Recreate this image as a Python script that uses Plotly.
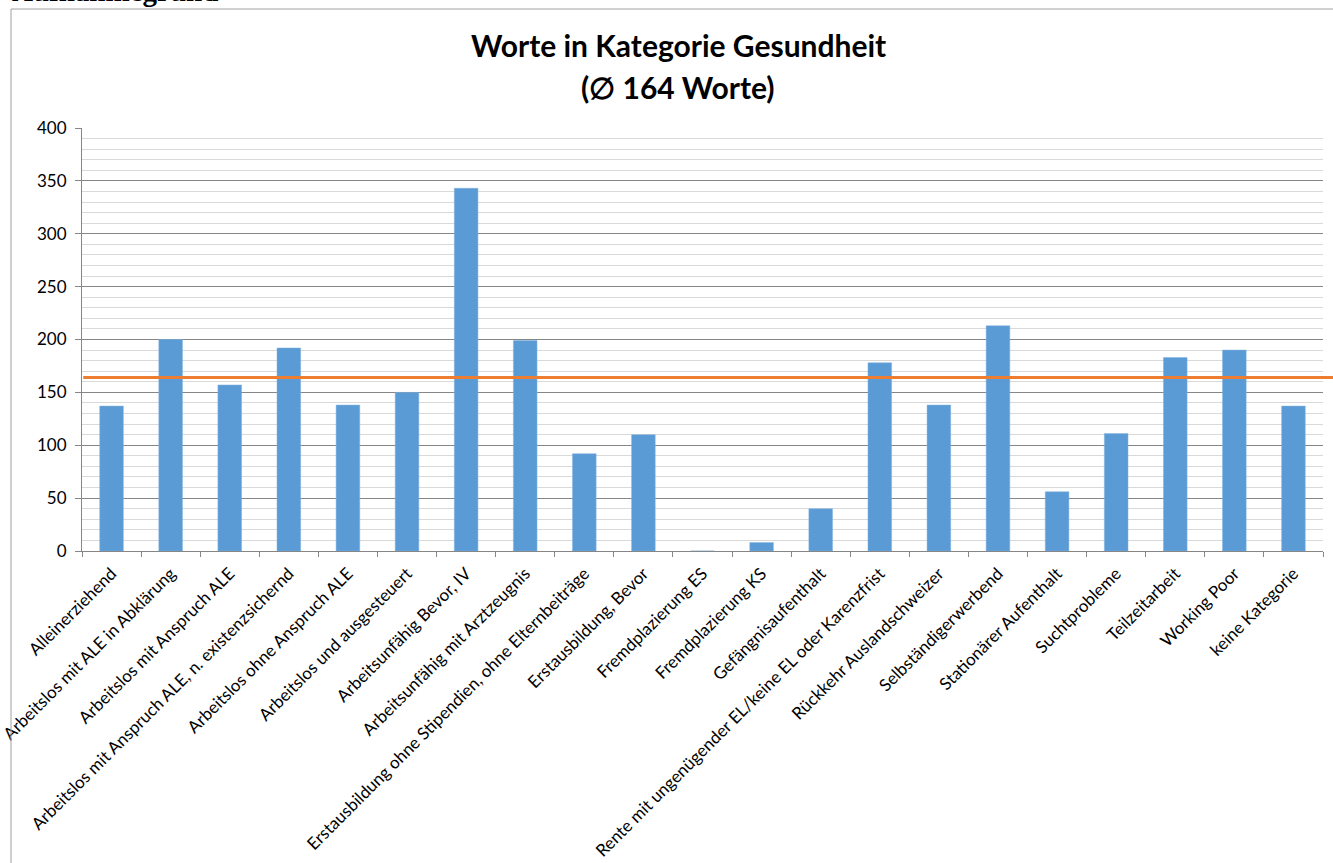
import plotly.graph_objects as go

categories = [
    "Alleinerziehend",
    "Arbeitslos mit ALE in Abklärung",
    "Arbeitslos mit Anspruch ALE",
    "Arbeitslos mit Anspruch ALE, n. existenzsichernd",
    "Arbeitslos ohne Anspruch ALE",
    "Arbeitslos und ausgesteuert",
    "Arbeitsunfähig Bevor, IV",
    "Arbeitsunfähig mit Arztzeugnis",
    "Erstausbildung ohne Stipendien, ohne Elternbeiträge",
    "Erstausbildung, Bevor",
    "Fremdplazierung ES",
    "Fremdplazierung KS",
    "Gefängnisaufenthalt",
    "Rente mit ungenügender EL/keine EL oder Karenzfrist",
    "Rückkehr Auslandschweizer",
    "Selbständigerwerbend",
    "Stationärer Aufenthalt",
    "Suchtprobleme",
    "Teilzeitarbeit",
    "Working Poor",
    "keine Kategorie",
]
values = [137, 200, 157, 192, 138, 150, 343, 199, 92, 110, 0, 8, 40, 178, 138, 213, 56, 111, 183, 190, 137]
average = 164

title_line1 = "Worte in Kategorie Gesundheit"
title_line2 = "(∅ 164 Worte)"
header = "Aufnahmegrund"

W, H = 1333, 863
L, R, T, B = 82, 10, 128, 312
pw = W - L - R
ph = H - T - B

def px_x(x):
    return (x - L) / pw

def px_y(y):
    return 1 - (y - T) / ph

font_main = "Lato, 'Open Sans', sans-serif"

fig = go.Figure()
fig.add_trace(go.Bar(
    x=categories, y=values,
    marker=dict(color="#5B9BD5", line=dict(color="#7FB2E0", width=0.5)),
    hoverinfo="x+y",
))

fig.add_shape(type="line", xref="paper", yref="y", x0=0.001, x1=1.02,
              y0=average, y1=average, line=dict(color="#ED7D31", width=3), layer="above")

# outer chart frame
fig.add_shape(type="line", xref="paper", yref="paper", x0=px_x(11), x1=px_x(11),
              y0=px_y(9), y1=px_y(900), line=dict(color="#A0A0A0", width=1))
fig.add_shape(type="line", xref="paper", yref="paper", x0=px_x(11), x1=px_x(1400),
              y0=px_y(9), y1=px_y(9), line=dict(color="#A0A0A0", width=1))

fig.add_annotation(text="<b>" + title_line1 + "</b>", xref="paper", yref="paper",
                   x=px_x(678), y=px_y(45), xanchor="center", yanchor="middle",
                   showarrow=False, font=dict(family=font_main, size=30, color="#000000"))
fig.add_annotation(text="<b>" + title_line2 + "</b>", xref="paper", yref="paper",
                   x=px_x(678), y=px_y(87), xanchor="center", yanchor="middle",
                   showarrow=False, font=dict(family=font_main, size=30, color="#000000"))
fig.add_annotation(text="<b>" + header + "</b>", xref="paper", yref="paper",
                   x=px_x(10), y=px_y(-9), xanchor="left", yanchor="middle",
                   showarrow=False, font=dict(family="'Liberation Serif', serif", size=29, color="#000000"))

fig.update_layout(
    width=W, height=H,
    margin=dict(l=L, r=R, t=T, b=B, autoexpand=False),
    paper_bgcolor="white", plot_bgcolor="white",
    showlegend=False,
    bargap=0.6,
    font=dict(family=font_main, color="#000000"),
)
fig.update_xaxes(
    type="category", showline=True, linecolor="#868686", linewidth=1,
    ticks="outside", tickson="boundaries", ticklen=5, tickcolor="#868686",
    tickangle=-45, tickfont=dict(size=17, family=font_main, color="#000000"),
    ticklabelstandoff=5,
    showgrid=False, automargin=False,
)
fig.update_yaxes(
    range=[0, 400], dtick=50, showline=True, linecolor="#868686", linewidth=1,
    ticks="outside", ticklen=6, tickcolor="#868686",
    showgrid=True, gridcolor="#868686", gridwidth=1,
    minor=dict(dtick=10, showgrid=True, gridcolor="#D9D9D9", gridwidth=1),
    tickfont=dict(size=17, family=font_main, color="#000000"),
    ticklabelstandoff=5,
    zeroline=False, automargin=False,
)

fig.write_html("out.html", config={"displayModeBar": False},
               post_script="document.body.style.margin='0';document.body.style.overflow='hidden';")
